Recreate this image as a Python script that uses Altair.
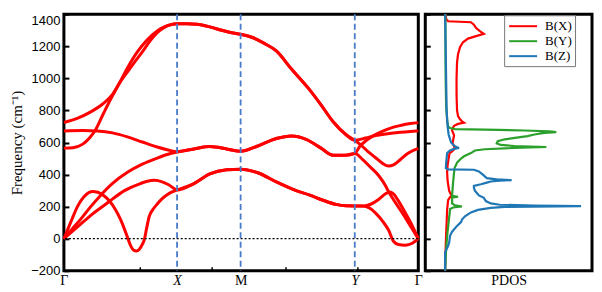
import altair as alt
import pandas as pd

# ---------------- band structure ----------------
sym_labels = ["Γ", "X", "M", "Y", "Γ"]
sym_k = [0, 114, 178, 293, 357]
minor_k = [76, 149, 223, 296]
y_ticks = [-200, 0, 200, 400, 600, 800, 1000, 1200, 1400]

# Γ–X
A_k = [0, 14, 27, 39, 49, 56, 64, 71, 79, 87, 94, 101, 108, 114]
A_f = [725, 752, 791, 840, 900, 971, 1040, 1100, 1165, 1235, 1285, 1318, 1335, 1340]
B_k = [0, 9, 19, 26, 31, 39, 47, 56, 64, 74, 84, 94, 104, 114]
B_f = [565, 568, 590, 630, 670, 770, 870, 971, 1065, 1165, 1240, 1295, 1328, 1340]
C_k = [0, 19, 34, 49, 64, 79, 94, 104, 114]
C_f = [672, 675, 672, 660, 635, 603, 572, 555, 543]
D_k = [0, 9, 18, 27, 36, 49, 64, 79, 94, 104, 114]
D_f = [0, 65, 130, 200, 264, 345, 414, 465, 503, 525, 541]
E_k = [0, 14, 29, 44, 61, 77, 84, 91, 99, 106, 114]
E_f = [0, 75, 155, 224, 300, 344, 358, 364, 355, 335, 304]
F_k = [0, 4, 8, 14, 20, 25, 29, 34, 40, 46, 52, 57, 61, 64, 67, 70, 73, 76, 79, 81,
       83, 86, 90, 94, 99, 104, 109, 114]
F_f = [0, 60, 120, 205, 260, 288, 294, 290, 270, 235, 180, 120, 60, 10, -40, -70, -76, -65, -35, -6,
       55, 140, 185, 216, 250, 274, 292, 304]

# X–M–Y
top_k = [114, 124, 134, 147, 159, 169, 178, 190, 201, 214, 229, 247, 259, 271, 284, 293]
top_f = [1340, 1340, 1337, 1321, 1300, 1285, 1275, 1255, 1221, 1171, 1060, 933, 835, 731, 650, 614]
mid_k = [114, 131, 147, 164, 178, 194, 214, 229, 244, 259, 271, 282, 293]
mid_f = [541, 560, 575, 560, 545, 575, 625, 641, 620, 565, 521, 520, 531]
low_k = [114, 131, 147, 164, 178, 196, 214, 234, 247, 261, 274, 284, 293]
low_f = [304, 344, 404, 430, 434, 410, 354, 300, 274, 240, 214, 205, 204]

# Y–Γ
L3_k = [293, 298, 304, 311, 319, 329, 339, 349, 357]
L3_f = [531, 575, 610, 640, 665, 690, 706, 718, 724]
L4_k = [293, 304, 314, 326, 339, 349, 357]
L4_f = [614, 628, 643, 655, 664, 669, 672]
L5_k = [293, 299, 306, 314, 321, 327, 332, 339, 347, 357]
L5_f = [614, 585, 545, 505, 470, 453, 460, 494, 535, 564]
L6_k = [293, 301, 309, 317, 324, 327, 334, 342, 350, 357]
L6_f = [531, 494, 445, 394, 330, 294, 225, 150, 70, 0]
L7a_k = [293, 302, 309, 317, 324, 328, 332, 338, 344, 351, 357]
L7a_f = [204, 204, 215, 245, 280, 292, 280, 225, 160, 80, 0]
L7b_k = [293, 300, 307, 314, 321, 327, 332, 337, 344, 351, 357]
L7b_f = [204, 204, 194, 160, 110, 54, -16, -36, -40, -28, 0]

# ---------------- PDOS ----------------
species = ["B(X)", "B(Y)", "B(Z)"]
species_colors = ["#ff0000", "#2ca02c", "#1f77b4"]

X_f = [1400, 1370, 1356, 1350, 1335, 1315, 1295, 1278, 1265, 1248, 1225, 1195, 1150, 1100, 1000, 900, 800,
       765, 745, 732, 724, 716, 704, 690, 675, 660, 645, 630, 612, 595, 578, 560, 545, 534, 500, 460, 414,
       360, 300, 280, 270, 260, 240, 180, 100, 30, -66, -120, -200]
X_v = [0.05, 0.1, 0.3, 2.6, 2.9, 3.1, 3.5, 3.9, 3.2, 2.3, 1.8, 1.5, 1.3, 1.2, 1.15, 1.15, 1.2, 1.3, 1.5,
       1.7, 1.9, 1.3, 0.9, 0.75, 0.7, 0.8, 0.9, 0.85, 0.8, 0.75, 0.9, 0.95, 0.7, 0.45, 0.35, 0.25, 0.2,
       0.25, 0.4, 0.55, 0.7, 0.5, 0.3, 0.2, 0.15, 0.1, 0.05, 0.02, 0]
Y_f = [1400, 1000, 834, 740, 700, 690, 684, 680, 675, 670, 665, 660, 650, 640, 630, 620, 608, 595, 585,
       578, 572, 566, 558, 550, 534, 514, 494, 474, 440, 414, 350, 294, 268, 262, 256, 248, 220, 208, 201,
       195, 186, 100, 34, -64, -200]
Y_v = [0.02, 0.05, 0.1, 0.2, 0.3, 0.5, 1.0, 4.0, 8.0, 10.5, 11.2, 10.0, 9.0, 8.3, 7.2, 6.0, 5.3, 5.2, 5.6,
       7.0, 10.2, 7.0, 4.0, 3.0, 2.6, 1.9, 1.5, 1.2, 0.95, 0.9, 0.8, 0.73, 0.7, 1.3, 0.7, 0.7, 0.7, 1.0,
       1.7, 0.8, 0.5, 0.35, 0.23, 0.1, 0]
Z_f = [1400, 1200, 1000, 800, 700, 650, 600, 580, 570, 566, 560, 550, 534, 470, 440, 433, 430, 420, 400,
       378, 370, 365, 362, 357, 350, 340, 330, 318, 300, 285, 270, 255, 235, 220, 212, 206, 203, 198, 192,
       180, 164, 140, 120, 104, 80, 44, 20, -26, -44, -84, -200]
Z_v = [0.0, 0.05, 0.1, 0.15, 0.25, 0.35, 0.6, 0.9, 1.2, 1.4, 0.9, 0.5, 0.2, 0.1, 0.07, 0.3, 2.9, 3.4, 3.8,
       4.2, 5.2, 6.7, 5.5, 4.6, 4.2, 3.6, 2.9, 2.9, 3.0, 3.2, 3.4, 3.9, 4.1, 4.6, 5.5, 9.0, 13.7, 6.0, 4.6,
       3.3, 2.6, 2.0, 1.7, 1.6, 1.2, 0.7, 0.5, 0.4, 0.3, 0.0, 0.0]


def join(*parts):
    ks, fs = [], []
    for i, (k, f) in enumerate(parts):
        s = 0 if i == 0 else 1
        ks += k[s:]
        fs += f[s:]
    return ks, fs


bands = {
    1: join((A_k, A_f), (top_k, top_f), (L4_k, L4_f)),
    2: join((B_k, B_f), (top_k, top_f), (L5_k, L5_f)),
    3: join((C_k, C_f), (mid_k, mid_f), (L3_k, L3_f)),
    4: join((D_k, D_f), (mid_k, mid_f), (L6_k, L6_f)),
    5: join((E_k, E_f), (low_k, low_f), (L7a_k, L7a_f)),
    6: join((F_k, F_f), (low_k, low_f), (L7b_k, L7b_f)),
}
band_df = pd.DataFrame(
    [{"band": b, "k": k, "f": f} for b, (ks, fs) in bands.items() for k, f in zip(ks, fs)]
)
sym_df = pd.DataFrame({"k": sym_k[1:-1]})
zero_df = pd.DataFrame({"f": [0]})

pdos_rows = []
for name, fs, vs in zip(species, [X_f, Y_f, Z_f], [X_v, Y_v, Z_v]):
    for f, v in zip(fs, vs):
        pdos_rows.append({"species": name, "f": f, "v": v})
pdos_df = pd.DataFrame(pdos_rows)

W1, W2, H = 355, 167, 257

xs = alt.Scale(domain=[sym_k[0], sym_k[-1]], nice=False, zero=False)
ys = alt.Scale(domain=[y_ticks[0], y_ticks[-1]], nice=False, zero=False)

label_expr = " : ".join(
    f"datum.value == {k} ? '{lab}'" for k, lab in zip(sym_k, sym_labels)
) + " : ''"
italic_test = " || ".join(
    f"datum.value == {k}" for k, lab in zip(sym_k, sym_labels) if lab in ("X", "Y")
)

bands_chart = alt.Chart(band_df).mark_line(
    color="#ff0000", strokeWidth=3, interpolate="monotone"
).encode(
    x=alt.X("k:Q", scale=xs, axis=alt.Axis(
        values=sym_k, labelExpr=label_expr, title=None, ticks=False, tickSize=0,
        domain=False, grid=False, labelFont="Liberation Serif", labelFontSize=14,
        labelColor="black", labelPadding=3, labelFlush=False, labelOverlap=False,
        labelFontStyle={"condition": {"test": italic_test, "value": "italic"}, "value": "normal"},
    )),
    y=alt.Y("f:Q", scale=ys, axis=alt.Axis(
        values=y_ticks, format="d", title="Frequency (cm⁻¹)", titleFont="Liberation Serif",
        titleFontSize=15, titleFontWeight="normal", titleColor="black", titlePadding=6,
        labelFont="Liberation Sans", labelFontSize=13, labelColor="black", labelPadding=4,
        ticks=False, tickSize=0, domain=False, grid=False,
        labelBaseline={"condition": {"test": f"datum.value == {y_ticks[-1]}", "value": "top"},
                       "value": "middle"},
    )),
    detail="band:N",
)

sym_rules = alt.Chart(sym_df).mark_rule(
    color="#4a7bc8", strokeDash=[6, 3.5], strokeWidth=1.8
).encode(
    x=alt.X("k:Q", scale=xs, axis=alt.Axis(
        orient="top", offset=-H, values=minor_k, labels=False, domain=False, grid=False,
        tickSize=4, tickWidth=1.5, tickColor="black", title=None,
    )),
)

zero_rule = alt.Chart(zero_df).mark_rule(
    color="black", strokeDash=[2, 2], strokeWidth=1.2
).encode(
    y=alt.Y("f:Q", scale=ys, axis=alt.Axis(
        orient="right", offset=-W1, values=y_ticks, labels=False, domain=False, grid=False,
        tickSize=5, tickWidth=2, tickColor="black", title=None,
    )),
)

left = alt.layer(bands_chart, sym_rules, zero_rule).resolve_axis(
    x="independent", y="independent"
).properties(width=W1, height=H)

pdos_chart = alt.Chart(pdos_df).mark_line(strokeWidth=2.2).encode(
    x=alt.X("v:Q", scale=alt.Scale(domain=[-2, 14.8], nice=False, zero=False), axis=alt.Axis(
        title="PDOS", labels=False, ticks=False, tickSize=0, labelPadding=0, domain=False, grid=False,
        titleFont="Liberation Serif", titleFontSize=14, titleFontWeight="normal",
        titleColor="black", titlePadding=3,
    )),
    y=alt.Y("f:Q", scale=ys, axis=None),
    color=alt.Color("species:N", scale=alt.Scale(domain=species, range=species_colors),
                    legend=alt.Legend(
                        title=None, orient="none", legendX=79, legendY=1,
                        symbolType="M-2,0L2,0", symbolSize=196, symbolStrokeWidth=2,
                        symbolOffset=8, labelFont="Liberation Serif",
                        labelFontSize=13, labelColor="black", fillColor="white",
                        strokeColor="#777777", padding=3, rowPadding=0, labelOffset=14,
                        cornerRadius=0,
                    )),
    order=alt.Order("f:Q"),
)

pdos_ticks = alt.Chart(zero_df).mark_rule(opacity=0).encode(
    y=alt.Y("f:Q", scale=ys, axis=alt.Axis(
        orient="right", offset=-W2, values=y_ticks, labels=False, domain=False, grid=False,
        tickSize=5, tickWidth=2, tickColor="black", title=None,
    )),
)

right = alt.layer(pdos_chart, pdos_ticks).resolve_axis(y="independent").properties(
    width=W2, height=H
)

chart = alt.hconcat(left, right, spacing=7, bounds="flush").resolve_scale(
    color="independent"
).properties(
    padding={"left": 0, "top": 0, "right": 0, "bottom": 0}, background="white"
).configure_view(
    stroke="black", strokeWidth=3
)

chart.save("out.html", embed_options={"renderer": "svg", "actions": False})
